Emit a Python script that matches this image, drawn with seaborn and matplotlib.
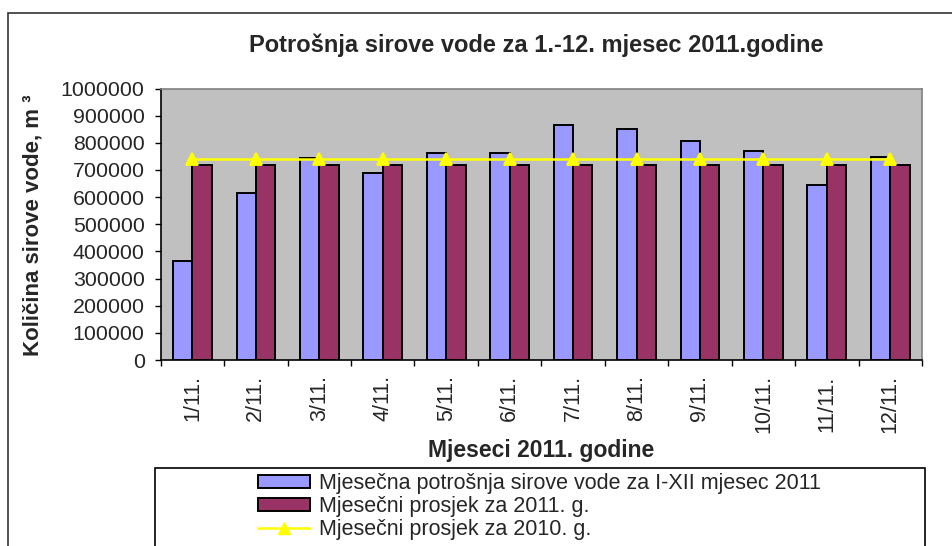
import numpy as np
import pandas as pd
import matplotlib
matplotlib.use("Agg")
import matplotlib.pyplot as plt
from matplotlib.patches import Patch, Rectangle
from matplotlib.lines import Line2D
from matplotlib.ticker import FixedLocator
import seaborn as sns

# data (m3)
mjeseci = ["1/11.", "2/11.", "3/11.", "4/11.", "5/11.", "6/11.",
           "7/11.", "8/11.", "9/11.", "10/11.", "11/11.", "12/11."]
potrosnja_2011 = [365000, 615000, 745000, 689000, 763000, 763000,
                  866000, 850000, 808000, 770000, 645000, 749000]
prosjek_2011 = [720000] * 12
prosjek_2010 = [740000] * 12

lab_potr = "Mjesečna potrošnja sirove vode za I-XII mjesec 2011"
lab_p11 = "Mjesečni prosjek za 2011. g."
lab_p10 = "Mjesečni prosjek za 2010. g."

BLUE, RED, YEL = "#9999FF", "#993366", "#FFFF00"

sns.set_style("ticks")
plt.rcParams["font.family"] = ["Liberation Sans", "DejaVu Sans"]

df = pd.DataFrame({
    "mjesec": mjeseci * 2,
    "kolicina": potrosnja_2011 + prosjek_2011,
    "serija": [lab_potr] * 12 + [lab_p11] * 12,
})

fig = plt.figure(figsize=(9.53, 5.46), dpi=100)
ax = fig.add_axes([160.7 / 953, 1 - 360 / 546, (922 - 160.7) / 953, (360 - 88.5) / 546])
ax.set_facecolor("#C0C0C0")

sns.barplot(data=df, x="mjesec", y="kolicina", hue="serija", order=mjeseci,
            palette=[BLUE, RED], width=0.61, gap=0, edgecolor="black",
            linewidth=1.4, saturation=1, legend=False, ax=ax)
sns.pointplot(x=mjeseci, y=prosjek_2010, order=mjeseci, color=YEL, marker="^",
              markersize=9, linewidth=1.8, errorbar=None, ax=ax)

ax.set_xlim(-0.5, 11.5)
ax.set_ylim(0, 1000000)
ax.set_yticks(np.arange(0, 1000001, 100000))
ax.set_yticklabels([f"{v:d}" for v in range(0, 1000001, 100000)], fontsize=15.4)
ax.set_xticks(range(12))
ax.set_xticklabels(mjeseci, rotation=90, fontsize=15.5)
ax.xaxis.set_minor_locator(FixedLocator(np.arange(-0.5, 12, 1)))
ax.tick_params(axis="x", which="major", length=0, pad=11)
ax.tick_params(axis="x", which="minor", length=4.5, width=1, color="black", direction="out")
ax.tick_params(axis="y", length=4.5, width=1, color="black", direction="out", pad=7)
ax.set_xlabel("")
ax.set_ylabel("")
for s in ["top", "right"]:
    ax.spines[s].set_color("#808080")
    ax.spines[s].set_linewidth(1.2)
for s in ["left", "bottom"]:
    ax.spines[s].set_color("black")
    ax.spines[s].set_linewidth(1.2)

fig.text(536 / 953, 1 - 45 / 546, "Potrošnja sirove vode za 1.-12. mjesec 2011.godine",
         ha="center", va="center", fontsize=17, fontweight="bold")
fig.text(541 / 953, 1 - 457 / 546, "Mjeseci 2011. godine",
         ha="center", va="baseline", fontsize=16.5, fontweight="bold")
fig.text(33 / 953, 1 - 225 / 546, "Količina sirove vode, m ³", rotation=90,
         ha="center", va="center", fontsize=16, fontweight="bold")

# outer chart border and legend box
fig.add_artist(Rectangle((8 / 953, -0.1), 1.0, 1 - 13 / 546 + 0.1, transform=fig.transFigure,
                         fill=False, edgecolor="#333333", linewidth=1.2, clip_on=False))
fig.add_artist(Rectangle((155 / 953, -0.1), (925 - 155) / 953, 1 - 468 / 546 + 0.1,
                         transform=fig.transFigure, facecolor="white", edgecolor="black",
                         linewidth=1.2, clip_on=False))

handles = [Patch(facecolor=BLUE, edgecolor="black", linewidth=1.4),
           Patch(facecolor=RED, edgecolor="black", linewidth=1.4),
           Line2D([], [], color=YEL, linewidth=1.8, marker="^", markersize=9)]
fig.legend(handles, [lab_potr, lab_p11, lab_p10], loc="upper left",
           bbox_to_anchor=(258 / 953, 1 - 473 / 546), frameon=False, fontsize=15.5,
           borderpad=0, borderaxespad=0, labelspacing=0.1, handlelength=2.4,
           handletextpad=0.45, handleheight=0.6, numpoints=1)

fig.savefig("out.png", dpi=100)
